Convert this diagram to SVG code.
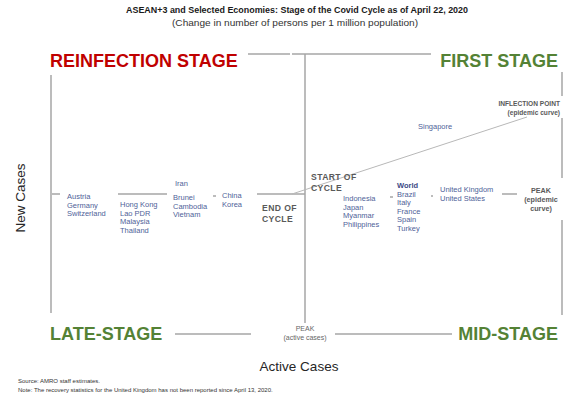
<svg xmlns="http://www.w3.org/2000/svg" width="568" height="396" viewBox="0 0 568 396">
<style>
text{font-family:"Liberation Sans",Arial,sans-serif}
.ttl{font-size:9px;font-weight:bold;fill:#1a1a1a}
.sub{font-size:9.6px;fill:#333}
.stage{font-size:18px;font-weight:bold}
.red{fill:#c00000}
.grn{fill:#548235}
.axis{font-size:13.5px;fill:#262626}
.cty{font-size:7.5px;fill:#4f5f99}
.cyc{font-size:8.6px;font-weight:bold;fill:#595959;letter-spacing:0.4px}
.pk{font-size:7.2px;font-weight:bold;fill:#595959}
.pks{font-size:7px;fill:#666}
.note{font-size:6px;fill:#333}
.ln{stroke:#a6a6a6;stroke-width:1.5;fill:none}
.thin{stroke:#b8b8b8;stroke-width:1;fill:none}
</style>
<rect width="568" height="396" fill="#fff"/>
<g id="title">
<text class="ttl" x="126" y="13" textLength="342" lengthAdjust="spacingAndGlyphs">ASEAN+3 and Selected Economies: Stage of the Covid Cycle as of April 22, 2020</text>
<text class="sub" x="172" y="25.5" textLength="246" lengthAdjust="spacingAndGlyphs">(Change in number of persons per 1 million population)</text>
</g>
<g id="connectors">
<line class="ln" x1="248" y1="54" x2="290" y2="54"/>
<line class="ln" x1="292" y1="54" x2="431" y2="54"/>
<line class="ln" x1="305" y1="54" x2="305" y2="323"/>
<line class="ln" x1="51" y1="75" x2="51" y2="313"/>
<line class="ln" x1="562" y1="72" x2="562" y2="96"/>
<line class="ln" x1="562" y1="118" x2="562" y2="178"/>
<line class="ln" x1="562" y1="220" x2="562" y2="315"/>
<line class="ln" x1="175" y1="334" x2="251" y2="334"/>
<line class="ln" x1="335" y1="334" x2="452" y2="334"/>
<line class="ln" x1="52" y1="194" x2="60" y2="194"/>
<line class="ln" x1="118" y1="194" x2="167" y2="194"/>
<line class="ln" x1="213" y1="196" x2="216" y2="196"/>
<line class="ln" x1="257" y1="194" x2="305" y2="194"/>
<line class="thin" x1="292" y1="194" x2="527" y2="117"/>
<line class="ln" x1="390" y1="197" x2="393" y2="197"/>
<line class="ln" x1="431" y1="196" x2="433" y2="196"/>
<line class="ln" x1="502" y1="194" x2="517" y2="194"/>
</g>
<g id="stage-reinfection"><text class="stage red" x="50" y="67">REINFECTION STAGE</text></g>
<g id="stage-first"><text class="stage grn" x="558" y="67" text-anchor="end">FIRST STAGE</text></g>
<g id="stage-late"><text class="stage grn" x="50" y="340">LATE-STAGE</text></g>
<g id="stage-mid"><text class="stage grn" x="558" y="340" text-anchor="end">MID-STAGE</text></g>
<g id="axis-y"><text class="axis" transform="translate(25,198) rotate(-90)" text-anchor="middle">New Cases</text></g>
<g id="axis-x"><text class="axis" x="299" y="371" text-anchor="middle">Active Cases</text></g>
<g id="peak-active">
<text class="pks" x="305" y="331" text-anchor="middle">PEAK</text>
<text class="pks" x="305" y="340" text-anchor="middle">(active cases)</text>
</g>
<g id="inflection">
<text class="pk" x="560" y="106" text-anchor="end" style="font-size:6.6px">INFLECTION POINT</text>
<text class="pk" x="560" y="115" text-anchor="end" style="font-size:6.6px">(epidemic curve)</text>
</g>
<g id="singapore"><text class="cty" x="418" y="129">Singapore</text></g>
<g id="peak-epidemic">
<text class="pk" x="541" y="193" text-anchor="middle">PEAK</text>
<text class="pk" x="541" y="202" text-anchor="middle">(epidemic</text>
<text class="pk" x="541" y="211" text-anchor="middle">curve)</text>
</g>
<g id="end-of-cycle">
<text class="cyc" x="262" y="211">END OF</text>
<text class="cyc" x="262" y="222">CYCLE</text>
</g>
<g id="start-of-cycle">
<text class="cyc" x="311" y="180">START OF</text>
<text class="cyc" x="311" y="191">CYCLE</text>
</g>
<g id="group-austria">
<text class="cty" x="67" y="199">Austria</text>
<text class="cty" x="67" y="207.5">Germany</text>
<text class="cty" x="67" y="216">Switzerland</text>
</g>
<g id="group-hongkong">
<text class="cty" x="120" y="207">Hong Kong</text>
<text class="cty" x="120" y="215.5">Lao PDR</text>
<text class="cty" x="120" y="224">Malaysia</text>
<text class="cty" x="120" y="232.5">Thailand</text>
</g>
<g id="group-iran"><text class="cty" x="175" y="186">Iran</text></g>
<g id="group-brunei">
<text class="cty" x="173" y="200">Brunei</text>
<text class="cty" x="173" y="208.5">Cambodia</text>
<text class="cty" x="173" y="217">Vietnam</text>
</g>
<g id="group-china">
<text class="cty" x="222" y="198">China</text>
<text class="cty" x="222" y="206.5">Korea</text>
</g>
<g id="group-indonesia">
<text class="cty" x="343" y="201">Indonesia</text>
<text class="cty" x="343" y="209.5">Japan</text>
<text class="cty" x="343" y="218">Myanmar</text>
<text class="cty" x="343" y="226.5">Philippines</text>
</g>
<g id="group-world">
<text class="cty" x="397" y="188" style="font-weight:bold;fill:#3b4a85">World</text>
<text class="cty" x="397" y="196.5">Brazil</text>
<text class="cty" x="397" y="205">Italy</text>
<text class="cty" x="397" y="213.5">France</text>
<text class="cty" x="397" y="222">Spain</text>
<text class="cty" x="397" y="230.5">Turkey</text>
</g>
<g id="group-uk">
<text class="cty" x="440" y="192">United Kingdom</text>
<text class="cty" x="440" y="200.5">United States</text>
</g>
<g id="notes">
<text class="note" x="18" y="383">Source: AMRO staff estimates.</text>
<text class="note" x="18" y="392">Note: The recovery statistics for the United Kingdom has not been reported since April 13, 2020.</text>
</g>
</svg>
